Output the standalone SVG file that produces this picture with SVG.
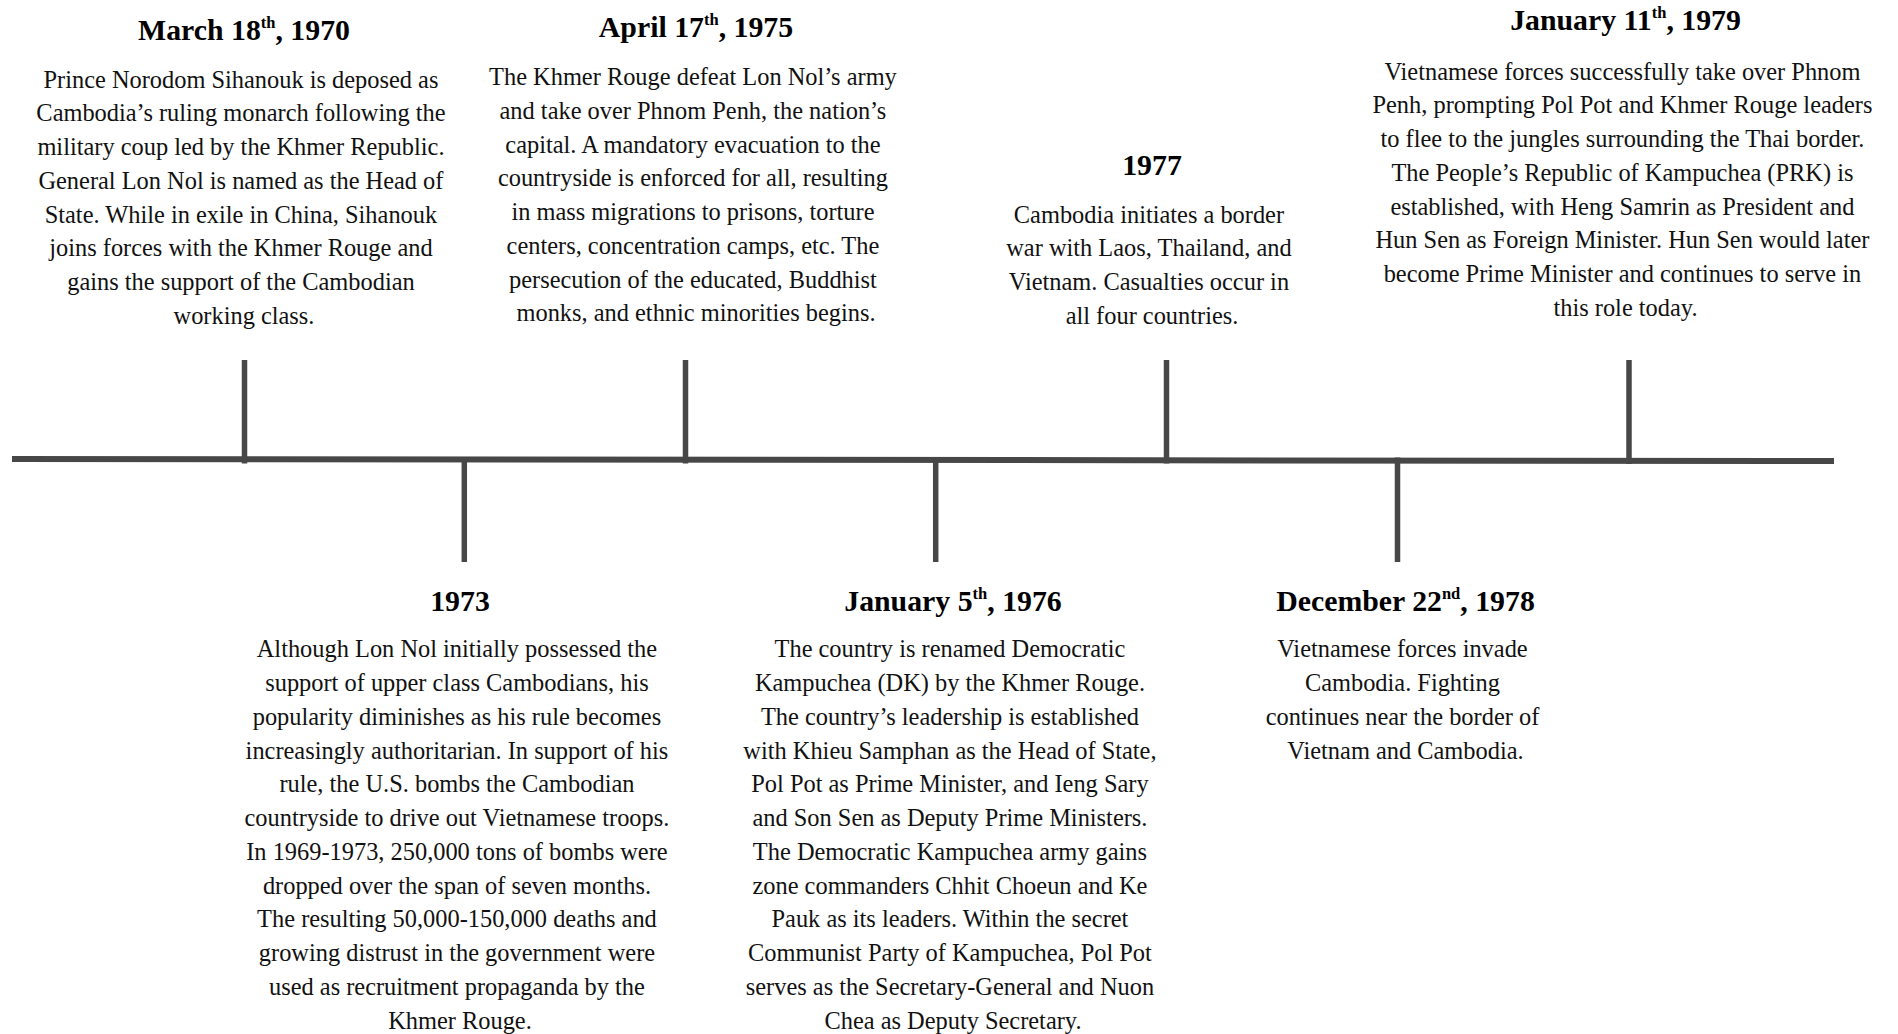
<svg xmlns="http://www.w3.org/2000/svg" width="1898" height="1034" viewBox="0 0 1898 1034">
<style>
.t{font-family:"Liberation Serif","Times New Roman",serif;font-weight:bold;font-size:29.8px;fill:#000;text-anchor:middle}
.b{font-family:"Liberation Serif","Times New Roman",serif;font-size:24.4px;fill:#111;text-anchor:middle}
.s{font-size:16.5px}
.ln{stroke:#474747;stroke-linecap:butt;fill:none}
</style>
<rect width="1898" height="1034" fill="#fff"/>
<g id="connectors">
<line class="ln" x1="12" y1="459" x2="1834" y2="461" stroke-width="6"/>
<line class="ln" x1="244.5" y1="360" x2="244.5" y2="463.5" stroke-width="5.5"/>
<line class="ln" x1="685.5" y1="360" x2="685.5" y2="463.5" stroke-width="5.5"/>
<line class="ln" x1="1166.5" y1="360" x2="1166.5" y2="463.5" stroke-width="5.5"/>
<line class="ln" x1="1629" y1="360" x2="1629" y2="464" stroke-width="5.5"/>
<line class="ln" x1="464.3" y1="457" x2="464.3" y2="562" stroke-width="5.5"/>
<line class="ln" x1="935.7" y1="457" x2="935.7" y2="562" stroke-width="5.5"/>
<line class="ln" x1="1397.5" y1="457.5" x2="1397.5" y2="562" stroke-width="5.5"/>
</g>
<g id="event-1970">
<text class="t" x="244" y="39.5">March 18<tspan class="s" dy="-12">th</tspan><tspan dy="12">, 1970</tspan></text>
<text class="b">
<tspan x="244" y="87.5">Prince Norodom Sihanouk is deposed as</tspan>
<tspan x="244" y="121.25">Cambodia’s ruling monarch following the</tspan>
<tspan x="244" y="155">military coup led by the Khmer Republic.</tspan>
<tspan x="244" y="188.75">General Lon Nol is named as the Head of</tspan>
<tspan x="244" y="222.5">State. While in exile in China, Sihanouk</tspan>
<tspan x="244" y="256.25">joins forces with the Khmer Rouge and</tspan>
<tspan x="244" y="290">gains the support of the Cambodian</tspan>
<tspan x="244" y="323.75">working class.</tspan>
</text>
</g>
<g id="event-1975">
<text class="t" x="696" y="37">April 17<tspan class="s" dy="-12">th</tspan><tspan dy="12">, 1975</tspan></text>
<text class="b">
<tspan x="696" y="85">The Khmer Rouge defeat Lon Nol’s army</tspan>
<tspan x="696" y="118.75">and take over Phnom Penh, the nation’s</tspan>
<tspan x="696" y="152.5">capital. A mandatory evacuation to the</tspan>
<tspan x="696" y="186.25">countryside is enforced for all, resulting</tspan>
<tspan x="696" y="220">in mass migrations to prisons, torture</tspan>
<tspan x="696" y="253.75">centers, concentration camps, etc. The</tspan>
<tspan x="696" y="287.5">persecution of the educated, Buddhist</tspan>
<tspan x="696" y="321.25">monks, and ethnic minorities begins.</tspan>
</text>
</g>
<g id="event-1977">
<text class="t" x="1152" y="174.5">1977</text>
<text class="b">
<tspan x="1152" y="222.5">Cambodia initiates a border</tspan>
<tspan x="1152" y="256.25">war with Laos, Thailand, and</tspan>
<tspan x="1152" y="290">Vietnam. Casualties occur in</tspan>
<tspan x="1152" y="323.75">all four countries.</tspan>
</text>
</g>
<g id="event-1979">
<text class="t" x="1625.5" y="29.5">January 11<tspan class="s" dy="-12">th</tspan><tspan dy="12">, 1979</tspan></text>
<text class="b">
<tspan x="1625.5" y="79.5">Vietnamese forces successfully take over Phnom</tspan>
<tspan x="1625.5" y="113.25">Penh, prompting Pol Pot and Khmer Rouge leaders</tspan>
<tspan x="1625.5" y="147">to flee to the jungles surrounding the Thai border.</tspan>
<tspan x="1625.5" y="180.75">The People’s Republic of Kampuchea (PRK) is</tspan>
<tspan x="1625.5" y="214.5">established, with Heng Samrin as President and</tspan>
<tspan x="1625.5" y="248.25">Hun Sen as Foreign Minister. Hun Sen would later</tspan>
<tspan x="1625.5" y="282">become Prime Minister and continues to serve in</tspan>
<tspan x="1625.5" y="315.75">this role today.</tspan>
</text>
</g>
<g id="event-1973">
<text class="t" x="460" y="610.5">1973</text>
<text class="b">
<tspan x="460" y="657.3">Although Lon Nol initially possessed the</tspan>
<tspan x="460" y="691.05">support of upper class Cambodians, his</tspan>
<tspan x="460" y="724.8">popularity diminishes as his rule becomes</tspan>
<tspan x="460" y="758.55">increasingly authoritarian. In support of his</tspan>
<tspan x="460" y="792.3">rule, the U.S. bombs the Cambodian</tspan>
<tspan x="460" y="826.05">countryside to drive out Vietnamese troops.</tspan>
<tspan x="460" y="859.8">In 1969-1973, 250,000 tons of bombs were</tspan>
<tspan x="460" y="893.55">dropped over the span of seven months.</tspan>
<tspan x="460" y="927.3">The resulting 50,000-150,000 deaths and</tspan>
<tspan x="460" y="961.05">growing distrust in the government were</tspan>
<tspan x="460" y="994.8">used as recruitment propaganda by the</tspan>
<tspan x="460" y="1028.55">Khmer Rouge.</tspan>
</text>
</g>
<g id="event-1976">
<text class="t" x="953" y="610.5">January 5<tspan class="s" dy="-12">th</tspan><tspan dy="12">, 1976</tspan></text>
<text class="b">
<tspan x="953" y="657.3">The country is renamed Democratic</tspan>
<tspan x="953" y="691.05">Kampuchea (DK) by the Khmer Rouge.</tspan>
<tspan x="953" y="724.8">The country’s leadership is established</tspan>
<tspan x="953" y="758.55">with Khieu Samphan as the Head of State,</tspan>
<tspan x="953" y="792.3">Pol Pot as Prime Minister, and Ieng Sary</tspan>
<tspan x="953" y="826.05">and Son Sen as Deputy Prime Ministers.</tspan>
<tspan x="953" y="859.8">The Democratic Kampuchea army gains</tspan>
<tspan x="953" y="893.55">zone commanders Chhit Choeun and Ke</tspan>
<tspan x="953" y="927.3">Pauk as its leaders. Within the secret</tspan>
<tspan x="953" y="961.05">Communist Party of Kampuchea, Pol Pot</tspan>
<tspan x="953" y="994.8">serves as the Secretary-General and Nuon</tspan>
<tspan x="953" y="1028.55">Chea as Deputy Secretary.</tspan>
</text>
</g>
<g id="event-1978">
<text class="t" x="1405.5" y="610.5">December 22<tspan class="s" dy="-12">nd</tspan><tspan dy="12">, 1978</tspan></text>
<text class="b">
<tspan x="1405.5" y="657.3">Vietnamese forces invade</tspan>
<tspan x="1405.5" y="691.05">Cambodia. Fighting</tspan>
<tspan x="1405.5" y="724.8">continues near the border of</tspan>
<tspan x="1405.5" y="758.55">Vietnam and Cambodia.</tspan>
</text>
</g>
</svg>
